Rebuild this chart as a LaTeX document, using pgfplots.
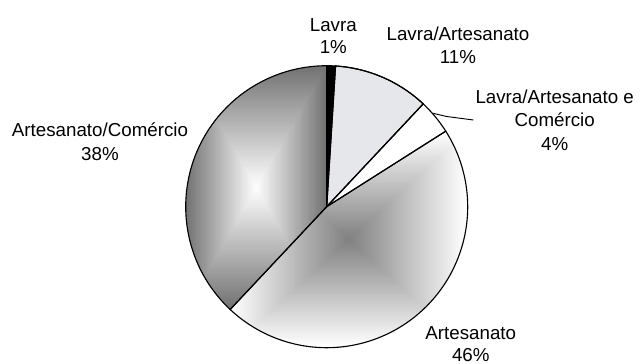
\documentclass[border=0pt]{standalone}
\usepackage{pgfplots}
\pgfplotsset{compat=1.18}
\usepackage{pgfplotstable}
\usepackage{fontspec}
\setmainfont{Liberation Sans}

% share of each activity, in the order the slices are laid out
\pgfplotstableread{
pct
1
11
4
46
38
}\pietable

% slice angles: clockwise from 12 o'clock, 3.6 degrees per percent
\xdef\cumangle{90}
\foreach \i in {0,...,4}{%
  \pgfplotstablegetelem{\i}{pct}\of\pietable
  \pgfmathsetmacro\endangle{\cumangle-3.6*\pgfplotsretval}
  \expandafter\xdef\csname sliceA\i\endcsname{\cumangle}
  \expandafter\xdef\csname sliceB\i\endcsname{\endangle}
  \xdef\cumangle{\endangle}
}

\colorlet{artcentre}{black!50}
\colorlet{comedge}{black!55}
\definecolor{marble}{RGB}{229,231,234}

% pie radius on the canvas (one axis unit)
\def\pieR{2.643754cm}

\newcommand\slicepath[1]{(axis cs:0,0) --
  (axis cs:{cos(\csname sliceA#1\endcsname)},{sin(\csname sliceA#1\endcsname)})
  arc[start angle=\csname sliceA#1\endcsname, end angle=\csname sliceB#1\endcsname, radius=\pieR] -- cycle}

% rectangular "from centre" gradient: centre x, centre y, half width, half height, centre colour, edge colour
\newcommand\rectgradfill[6]{%
  \pgfplotsforeachungrouped \k in {1,2,...,60}{%
    \pgfmathsetmacro\f{(61-\k)/60}%
    \pgfmathsetmacro\m{100*\f}%
    \pgfmathsetmacro\xa{#1-#3*\f}\pgfmathsetmacro\xb{#1+#3*\f}%
    \pgfmathsetmacro\ya{#2-#4*\f}\pgfmathsetmacro\yb{#2+#4*\f}%
    \edef\tmp{\noexpand\fill[#6!\m!#5] (axis cs:\xa,\ya) rectangle (axis cs:\xb,\yb);}%
    \tmp
  }}

\newcommand\slice[2]{% #1 row, #2 style
  \edef\lo{\csname sliceB#1\endcsname}%
  \edef\hi{\csname sliceA#1\endcsname}%
  \addplot[draw=black, line width=0.6pt, #2, domain=\lo:\hi, samples=150, variable=\t]
    ({cos(\t)},{sin(\t)}) -- (axis cs:0,0) -- cycle;
}

\tikzset{lab/.style={anchor=base, font=\fontsize{10}{12}\selectfont, inner sep=0pt},
  fleck/.style={fill=black!45, opacity=0.18}}

\begin{document}
\begin{tikzpicture}
\begin{axis}[
  scale only axis, width=12cm, height=6.806cm,
  xmin=-2.3170, xmax=2.2220, ymin=-1.1085, ymax=1.4660,
  hide axis, clip=false,
]
% shaded slices: gradient over each slice's bounding box
\begin{scope}
  \clip \slicepath{3};
  \rectgradfill{0.1577}{-0.2321}{0.8423}{0.7679}{artcentre}{white}
\end{scope}
\begin{scope}
  \clip \slicepath{4};
  \rectgradfill{-0.5}{0.1355}{0.5}{0.8645}{white}{comedge}
\end{scope}

\slice{0}{fill=black}
\slice{1}{fill=marble}
\slice{2}{fill=white}
\slice{3}{fill=none}
\slice{4}{fill=none}

% veined texture of the stone-coloured slice
\begin{scope}
  \clip \slicepath{1};
  \fill[fleck, rotate=20] (axis cs:0.12,0.86) ellipse[x radius=5pt, y radius=1.6pt];
  \fill[fleck, rotate=-30] (axis cs:0.30,0.74) ellipse[x radius=4pt, y radius=1.4pt];
  \fill[fleck, rotate=10] (axis cs:0.18,0.56) ellipse[x radius=6pt, y radius=2pt];
  \fill[fleck, rotate=-15] (axis cs:0.42,0.62) ellipse[x radius=4pt, y radius=1.5pt];
  \fill[fleck, rotate=35] (axis cs:0.30,0.42) ellipse[x radius=4pt, y radius=1.5pt];
  \fill[fleck, rotate=-40] (axis cs:0.56,0.74) ellipse[x radius=3pt, y radius=1.2pt];
  \fill[fleck, rotate=5] (axis cs:0.10,0.68) ellipse[x radius=3pt, y radius=1.3pt];
  \fill[fleck, rotate=-20] (axis cs:0.22,0.30) ellipse[x radius=3pt, y radius=1.2pt];
  \fill[fleck, rotate=25] (axis cs:0.40,0.88) ellipse[x radius=3.5pt, y radius=1.3pt];
  \fill[fleck, rotate=-10] (axis cs:0.12,0.42) ellipse[x radius=3pt, y radius=1.2pt];
\end{scope}
\slice{1}{fill=none}

% leader line to the small slice
\draw[black, line width=0.5pt] (axis cs:0.756,0.662) -- (axis cs:0.85,0.640) -- (axis cs:1.040,0.615);

\node[lab] at (axis cs:0.0468,1.2411) {Lavra};
\node[lab] at (axis cs:0.0468,1.0879) {1\%};
\node[lab] at (axis cs:0.9312,1.1773) {Lavra/Artesanato};
\node[lab] at (axis cs:0.9312,1.0170) {11\%};
\node[lab] at (axis cs:1.6170,0.7333) {Lavra/Artesanato e};
\node[lab] at (axis cs:1.6170,0.5674) {Comércio};
\node[lab] at (axis cs:1.6170,0.4021) {4\%};
\node[lab] at (axis cs:-1.6078,0.4965) {Artesanato/Comércio};
\node[lab] at (axis cs:-1.6078,0.3262) {38\%};
\node[lab] at (axis cs:1.0220,-0.9404) {Artesanato};
\node[lab] at (axis cs:1.0220,-1.0979) {46\%};
\end{axis}
\pgfresetboundingbox
\path (current axis.south west) rectangle (current axis.north east);
\end{tikzpicture}
\end{document}
